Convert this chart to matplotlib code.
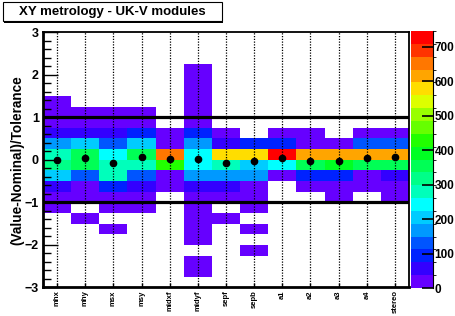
import matplotlib
matplotlib.use('Agg')
import matplotlib.pyplot as plt
from matplotlib import colors as mcolors
from matplotlib.patches import Rectangle
import numpy as np

plt.rcParams['font.family'] = ['Liberation Sans', 'DejaVu Sans']
plt.rcParams['font.weight'] = 'bold'

labels = ['mhx', 'mhy', 'msx', 'msy', 'midxf', 'midyf', 'sepf', 'sepb',
          'a1', 'a2', 'a3', 'a4', 'stereo']

# counts per column, y bins from top (2.75..3) down to bottom (-3..-2.75)
mhx = [0, 0, 0, 0, 0, 0, 15, 15, 15, 55, 170, 280, 330, 205, 55, 15, 15, 0, 0, 0, 0, 0, 0, 0]
mhy = [0, 0, 0, 0, 0, 0, 0, 15, 15, 55, 205, 355, 355, 130, 15, 15, 0, 15, 0, 0, 0, 0, 0, 0]
msx = [0, 0, 0, 0, 0, 0, 0, 15, 15, 55, 130, 245, 280, 280, 95, 15, 15, 0, 15, 0, 0, 0, 0, 0]
msy = [0, 0, 0, 0, 0, 0, 0, 15, 15, 95, 205, 355, 280, 130, 55, 15, 15, 0, 0, 0, 0, 0, 0, 0]
midxf = [0, 0, 0, 0, 0, 0, 0, 0, 0, 15, 15, 655, 430, 15, 15, 0, 0, 0, 0, 0, 0, 0, 0, 0]
midyf = [0, 0, 0, 15, 15, 15, 15, 15, 15, 95, 170, 245, 245, 170, 55, 15, 15, 15, 15, 15, 0, 15, 15, 0]
sepf = [0, 0, 0, 0, 0, 0, 0, 0, 0, 15, 55, 580, 280, 170, 55, 15, 0, 15, 0, 0, 0, 0, 0, 0]
sepb = [0, 0, 0, 0, 0, 0, 0, 0, 0, 0, 95, 580, 205, 170, 15, 15, 15, 0, 15, 0, 15, 0, 0, 0]
a1 = [0, 0, 0, 0, 0, 0, 0, 0, 0, 15, 95, 740, 245, 15, 0, 0, 0, 0, 0, 0, 0, 0, 0, 0]
a2 = [0, 0, 0, 0, 0, 0, 0, 0, 0, 15, 15, 615, 355, 110, 15, 0, 0, 0, 0, 0, 0, 0, 0, 0]
a3 = [0, 0, 0, 0, 0, 0, 0, 0, 0, 0, 15, 615, 390, 110, 15, 15, 0, 0, 0, 0, 0, 0, 0, 0]
a4 = [0, 0, 0, 0, 0, 0, 0, 0, 0, 15, 130, 615, 340, 15, 15, 0, 0, 0, 0, 0, 0, 0, 0, 0]
stereo = [0, 0, 0, 0, 0, 0, 0, 0, 0, 15, 130, 615, 340, 55, 15, 15, 0, 0, 0, 0, 0, 0, 0, 0]

# mean value per column (black dots)
means = [-0.01, 0.05, -0.07, 0.075, 0.01, 0.01, -0.07, -0.03,
         0.05, -0.02, -0.02, 0.03, 0.075]

palette = ['#6600ff', '#3300ff', '#0022ff', '#0055ff', '#0099ff', '#00ccff',
           '#00ffff', '#00ffbb', '#00ff88', '#00ff55', '#00ff22', '#22ff00',
           '#66ff00', '#99ff00', '#ddff00', '#ffdd00', '#ffa500', '#ff7700',
           '#ff3300', '#ff0000']
zmax = 745

table = np.array([mhx, mhy, msx, msy, midxf, midyf, sepf, sepb,
                  a1, a2, a3, a4, stereo], dtype=float).T
table = np.ma.masked_where(table <= 0, table)

x_edges = np.arange(len(labels) + 1)
y_edges = np.linspace(3, -3, 25)
xc = np.arange(len(labels)) + 0.5

cmap = mcolors.ListedColormap(palette)
norm = mcolors.BoundaryNorm(np.linspace(0, zmax, len(palette) + 1), len(palette))

fig = plt.figure(figsize=(4.55, 3.16), dpi=100)
ax = fig.add_axes([0.0945, 0.0902, 0.8044, 0.8085])
cax = fig.add_axes([0.9033, 0.0886, 0.0484, 0.8133])

mesh = ax.pcolormesh(x_edges, y_edges, table, cmap=cmap, norm=norm,
                     edgecolor='none', linewidth=0)

for x in xc:
    ax.axvline(x, color='black', lw=0.9, ls=(0, (1, 1.2)), zorder=3)
ax.axhline(1, color='black', lw=2.3, zorder=4)
ax.axhline(-1, color='black', lw=2.3, zorder=4)
ax.plot(xc, means, 'o', color='black', ms=4.5, zorder=5)

ax.set_xlim(0, len(labels))
ax.set_ylim(-3, 3)
ax.set_xticks(xc)
ax.set_xticklabels(labels, rotation=90, fontsize=5.5, va='top')
ax.set_yticks(np.arange(-3, 4, 1))
ax.set_yticks(np.arange(-3, 3.01, 0.2), minor=True)
ax.tick_params(axis='y', which='major', direction='in', length=11, width=1,
               labelsize=9, pad=3, right=False)
ax.tick_params(axis='y', which='minor', direction='in', length=5.5, width=1, right=False)
ax.tick_params(axis='x', which='major', direction='in', length=3, width=1, pad=2, top=False)
ax.set_ylabel('(Value-Nominal)/Tolerance', fontsize=9.8, fontweight='bold', labelpad=0.5)
for s in ax.spines.values():
    s.set_linewidth(1.3)
ax.spines['bottom'].set_linewidth(2)
ax.spines['left'].set_linewidth(2)

cb = fig.colorbar(mesh, cax=cax)
cb.outline.set_visible(False)
cb.set_ticks(np.arange(0, 701, 100))
cax.tick_params(direction='in', length=8, width=1.2, labelsize=8.5, pad=1)
cax.spines['right'].set_visible(True)

# title box with shadow
fig.patches.append(Rectangle((0.0088, 0.9272), 0.481, 0.060, transform=fig.transFigure,
                             facecolor='black', edgecolor='black', lw=0))
fig.patches.append(Rectangle((0.0066, 0.9335), 0.481, 0.060, transform=fig.transFigure,
                             facecolor='white', edgecolor='black', lw=0.8))
fig.text(0.247, 0.963, 'XY metrology - UK-V modules', ha='center', va='center', fontsize=9.5)

fig.savefig('out.png', dpi=100)
